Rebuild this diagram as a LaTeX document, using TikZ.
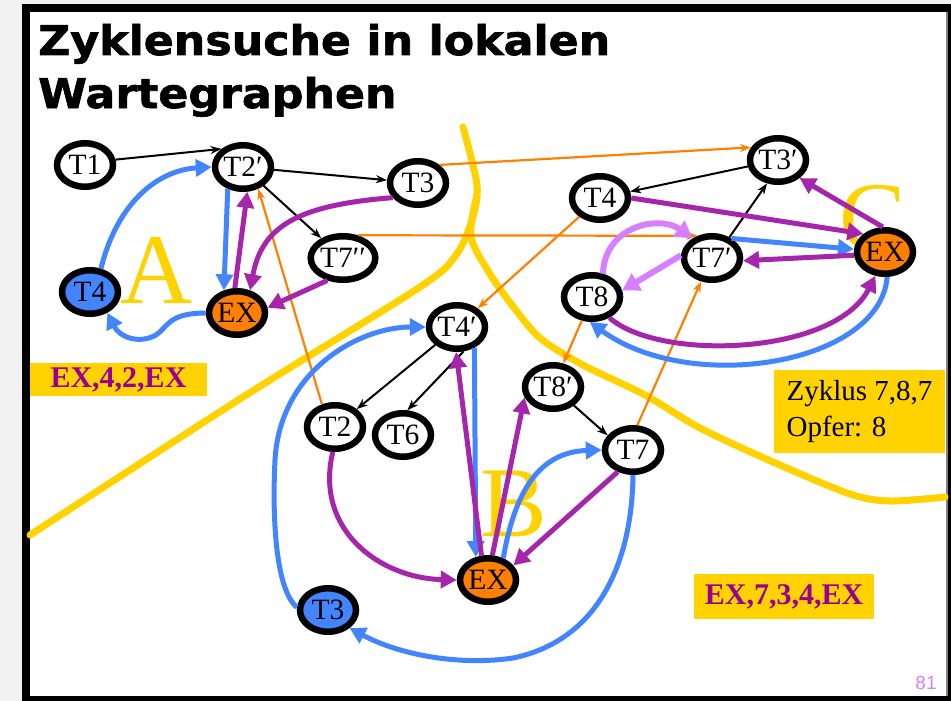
\documentclass[tikz,border=0pt]{standalone}
\usepackage{fontspec}
\setmainfont{Liberation Serif}
\newfontfamily\ttlfont{DejaVu Sans Bold}[FakeStretch=1.08, FakeBold=1.6]
\newfontfamily\numfont{Liberation Sans}
\usetikzlibrary{arrows.meta,shapes.geometric}
\definecolor{wblue}{RGB}{66,133,255}
\definecolor{wpurple}{RGB}{165,38,170}
\definecolor{wlilac}{RGB}{214,128,255}
\definecolor{worange}{RGB}{255,128,0}
\definecolor{wyellow}{RGB}{255,210,0}
\definecolor{wtext}{RGB}{150,0,150}
\definecolor{wgray}{RGB}{242,242,242}

\begin{document}
\begin{tikzpicture}[x=1pt, y=-1pt,
  tn/.style={ellipse, draw, line width=6.5pt, minimum width=56pt, minimum height=43.5pt, inner sep=0pt, fill=white, font=\fontsize{29.5}{29.5}\selectfont},
  tb/.style={tn, fill=wblue},
  ex/.style={tn, fill=worange},
  big/.style={text=wyellow, inner sep=0pt, font=\fontsize{100}{100}\selectfont},
  lab/.style={fill=wyellow, inner sep=0pt, text=wtext, font=\bfseries\fontsize{30}{30}\selectfont},
  yl/.style={draw=wyellow, line width=7pt, line cap=round},
  bk/.style={line width=2pt, -{Stealth[length=11pt,width=8pt]}},
  og/.style={draw=worange, line width=2.2pt, -{Stealth[length=11pt,width=8pt]}},
  bl/.style={draw=wblue, line width=5pt, -{Triangle[length=16pt,width=17pt]}},
  pu/.style={draw=wpurple, line width=5pt, -{Triangle[length=16pt,width=17pt]}},
  lp/.style={draw=wlilac, line width=6pt, -{Triangle[length=17pt,width=19pt]}}
]
\useasboundingbox (0,0) rectangle (951,701);
% slide frame
\fill[wgray] (0,0) rectangle (951,701);
\fill[black] (22,4) rectangle (951,701);
\fill[white] (30,12) rectangle (946,696);
\fill[gray] (946,12) rectangle (948,696);
\node[anchor=base west, inner sep=0pt, font=\ttlfont\fontsize{41}{41}\selectfont] (ttl1) at (38,55) {Zyklensuche in lokalen};
\node[anchor=base west, inner sep=0pt, font=\ttlfont\fontsize{41}{41}\selectfont] (ttl2) at (38,108) {Wartegraphen};

% site borders
\draw[yl] plot[smooth] coordinates {(30,535) (243,397) (420,287) (456,255) (472,220) (477,185) (463,127)};
\draw[yl] plot[smooth] coordinates {(477,195) (471,237) (490,274) (512,305) (540,338) (583,365) (645,395) (700,428) (773,462) (850,494) (890,501) (945,497)};
\node[big] (sa) at (157,270) {A};
\node[big] (sb) at (514,504) {B};
\node[big] (sc) at (873,219) {C};

% site A
\node[tn] (t1) at (85,165) {T1};
\node[tn] (t2p) at (243,167) {T2′};
\node[tn] (t3) at (418,183) {T3};
\node[tn] (t7pp) at (343,258) {T7′′};
\node[tb] (t4a) at (90,292) {T4};
\node[ex] (exa) at (237,313) {EX};
% site C
\node[tn] (t3p) at (778,160) {T3′};
\node[tn] (t4) at (600,198) {T4};
\node[tn] (t7p) at (712,258) {T7′};
\node[tn] (t8) at (592,297) {T8};
\node[ex] (exc) at (885,252) {EX};
% site B
\node[tn] (t4p) at (457,327) {T4′};
\node[tn] (t8p) at (553,387) {T8′};
\node[tn] (t2) at (335,427) {T2};
\node[tn] (t6) at (403,435) {T6};
\node[tn] (t7) at (633,450) {T7};
\node[ex] (exb) at (488,580) {EX};
\node[tb] (t3a) at (328,610) {T3};

% local wait-for edges
\draw[bk] (t1.10) -- (t2p.140);
\draw[bk] (t2p) -- (t3);
\draw[bk] (t2p) -- (t7pp);
\draw[bk] (t3p) -- (t4);
\draw[bk] (t7p.50) -- (t3p.-115);
\draw[bk] (t4p) -- (t2);
\draw[bk] (t4p.-75) -- (t6.80);
\draw[bk] (t8p) -- (t7.150);

% global (remote) edges
\draw[og] (t3.40) -- (t3p.155);
\draw[og] (t7pp.57) -- (t7p.123);
\draw[og] (t2.120) -- (t2p.-55);
\draw[og] (t4) -- (t4p);
\draw[og] (t8) -- (t8p);
\draw[og] (t7.80) -- (t7p.-115);

% EX edges
\draw[bl] (t4a.65) .. controls (118,200) and (160,170) .. (t2p.west);
\draw[bl] (t2p.-125) -- (exa.120);
\draw[bl] (exa.180) .. controls (168,313) and (168,327) .. (156,335) .. controls (140,344) and (120,338) .. (t4a.-50);
\draw[pu] (exa.95) -- (t2p.-80);
\draw[pu] (t3.-150) .. controls (300,205) and (262,225) .. (exa.60);
\draw[pu] (t7pp.-125) -- (exa.10);

\draw[bl] (t3a.175) .. controls (276,590) and (272,520) .. (275,460) .. controls (280,370) and (360,327) .. (t4p.west);
\draw[bl] (t4p.-50) -- (exb.118);
\draw[bl] (exb.55) .. controls (515,490) and (540,452) .. (t7.west);
\draw[bl] (t7.south) .. controls (632,560) and (600,640) .. (513,658) .. controls (460,666) and (400,655) .. (t3a.-40);
\draw[pu] (t2.-95) .. controls (314,530) and (380,578) .. (exb.west);
\draw[pu] (exb.105) -- (t4p.-92);
\draw[pu] (exb.80) -- (t8p.-160);
\draw[pu] (t7.-125) -- (exb.30);

\draw[bl] (t7p.45) -- (exc.175);
\draw[bl] (exc.-85) .. controls (880,365) and (690,395) .. (t8.-95);
\draw[pu] (t4.east) -- (exc.140);
\draw[pu] (exc.95) -- (t3p.-40);
\draw[pu] (exc.186) -- (t7p.-5);
\draw[pu] (t8.-50) .. controls (660,362) and (835,355) .. (exc.-112);
\draw[lp] (t8.65) .. controls (605,225) and (660,215) .. (t7p.135);
\draw[lp] (t7p.175) -- (t8.12);

% notes
\node[lab, minimum width=177pt, minimum height=33pt] (cyca) at (118.5,379.5) {EX,4,2,EX};
\node[lab, minimum width=180pt, minimum height=45pt] (cycb) at (784,596.5) {EX,7,3,4,EX};
\node[fill=wyellow, inner sep=0pt, minimum width=171pt, minimum height=83pt, align=left, font=\fontsize{29}{36}\selectfont] (cycc) at (859.5,411.5) {Zyklus 7,8,7\\Opfer: 8};
\node[text=wlilac, inner sep=0pt, font=\numfont\fontsize{19}{19}\selectfont] (pg) at (926,683) {81};
\end{tikzpicture}
\end{document}
